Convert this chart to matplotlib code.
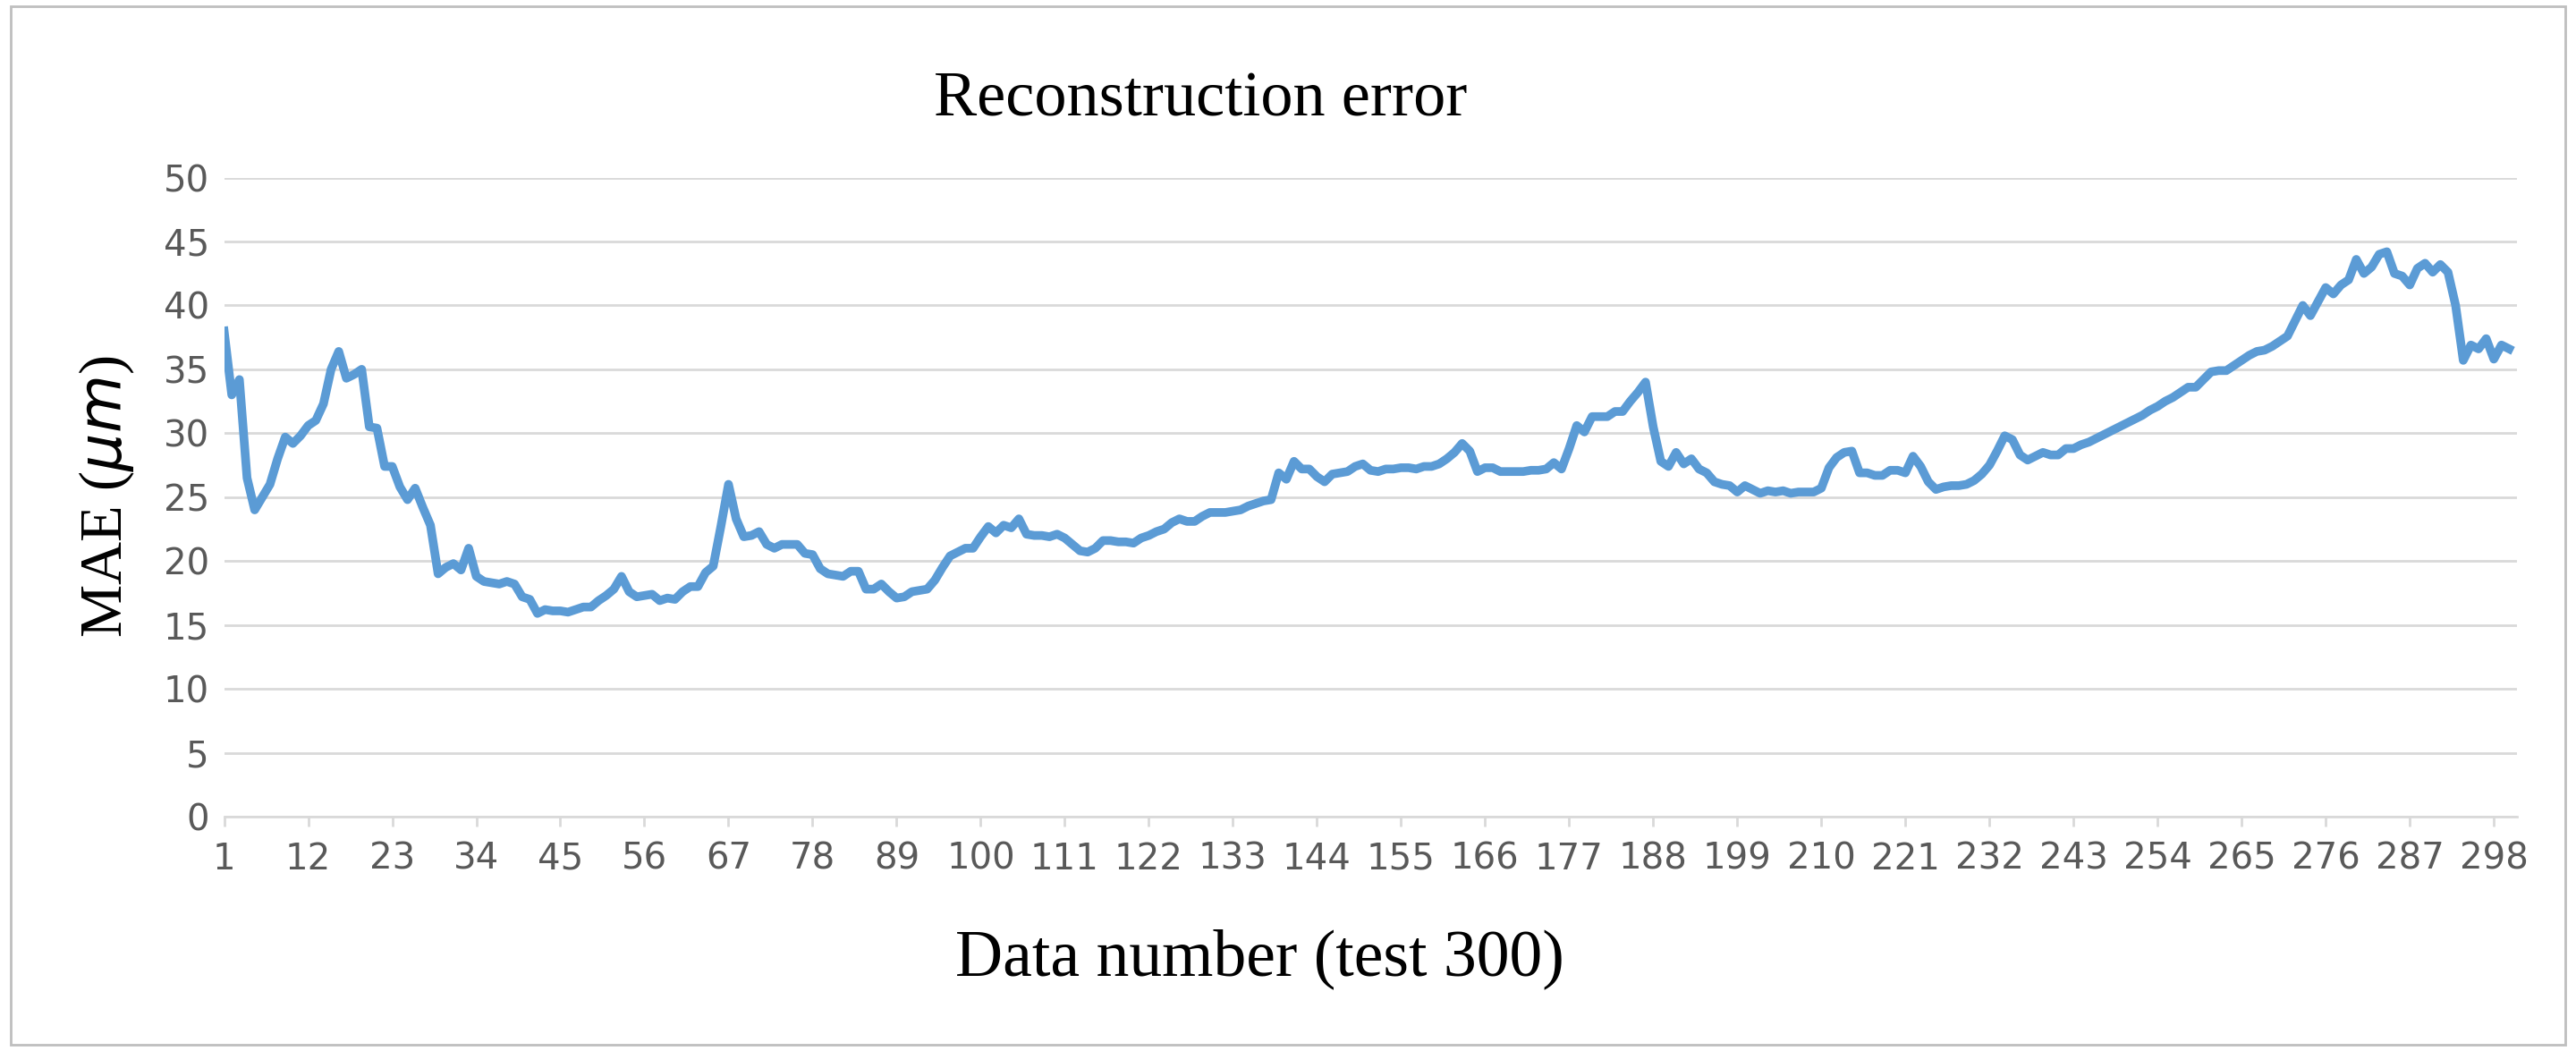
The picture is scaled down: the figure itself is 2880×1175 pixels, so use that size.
import matplotlib
matplotlib.use("Agg")
import matplotlib.pyplot as plt
import numpy as np

# MAE per test sample
mae = [38, 33, 34.2, 26.5, 24, 25, 26, 28, 29.7, 29.2,
       29.8, 30.6, 31, 32.3, 35, 36.4, 34.3, 34.6, 35, 30.5,
       30.4, 27.4, 27.4, 25.8, 24.8, 25.7, 24.2, 22.8, 19, 19.5,
       19.8, 19.3, 21, 18.8, 18.4, 18.3, 18.2, 18.4, 18.2, 17.2,
       17, 15.9, 16.2, 16.1, 16.1, 16, 16.2, 16.4, 16.4, 16.9,
       17.3, 17.8, 18.8, 17.6, 17.2, 17.3, 17.4, 16.9, 17.1, 17.0,
       17.6, 18, 18, 19.1, 19.6, 22.7, 26, 23.3, 21.9, 22,
       22.3, 21.3, 21.0, 21.3, 21.3, 21.3, 20.6, 20.5, 19.4, 19,
       18.9, 18.8, 19.2, 19.2, 17.8, 17.8, 18.2, 17.6, 17.1, 17.2,
       17.6, 17.7, 17.8, 18.5, 19.5, 20.4, 20.7, 21, 21, 21.9,
       22.7, 22.2, 22.8, 22.6, 23.3, 22.1, 22, 22, 21.9, 22.1,
       21.8, 21.3, 20.8, 20.7, 21, 21.6, 21.6, 21.5, 21.5, 21.4,
       21.8, 22, 22.3, 22.5, 23, 23.3, 23.1, 23.1, 23.5, 23.8,
       23.8, 23.8, 23.9, 24, 24.3, 24.5, 24.7, 24.8, 26.9, 26.4,
       27.8, 27.2, 27.2, 26.6, 26.2, 26.8, 26.9, 27, 27.4, 27.6,
       27.1, 27, 27.2, 27.2, 27.3, 27.3, 27.2, 27.4, 27.4, 27.6,
       28, 28.5, 29.2, 28.6, 27, 27.3, 27.3, 27, 27, 27,
       27, 27.1, 27.1, 27.2, 27.7, 27.2, 28.8, 30.6, 30.1, 31.3,
       31.3, 31.3, 31.7, 31.7, 32.5, 33.2, 34, 30.5, 27.8, 27.4,
       28.5, 27.6, 28, 27.2, 26.9, 26.2, 26, 25.9, 25.4, 25.9,
       25.6, 25.3, 25.5, 25.4, 25.5, 25.3, 25.4, 25.4, 25.4, 25.7,
       27.3, 28.1, 28.5, 28.6, 26.9, 26.9, 26.7, 26.7, 27.1, 27.1,
       26.9, 28.2, 27.4, 26.2, 25.6, 25.8, 25.9, 25.9, 26, 26.3,
       26.8, 27.5, 28.6, 29.8, 29.5, 28.3, 27.9, 28.2, 28.5, 28.3,
       28.3, 28.8, 28.8, 29.1, 29.3, 29.6, 29.9, 30.2, 30.5, 30.8,
       31.1, 31.4, 31.8, 32.1, 32.5, 32.8, 33.2, 33.6, 33.6, 34.2,
       34.8, 34.9, 34.9, 35.3, 35.7, 36.1, 36.4, 36.5, 36.8, 37.2,
       37.6, 38.8, 40, 39.2, 40.3, 41.4, 40.9, 41.6, 42, 43.6,
       42.5, 43, 44, 44.2, 42.5, 42.3, 41.6, 42.9, 43.3, 42.6,
       43.2, 42.6, 40, 35.7, 36.9, 36.6, 37.4, 35.8, 36.9, 36.6]
x = np.arange(1, len(mae) + 1)
xticks = list(range(1, 300, 11))

fig = plt.figure(figsize=(28.8, 11.75), dpi=100)
ax = fig.add_axes([0.087, 0.223, 0.89, 0.608])

ax.plot(x, mae, color='#5B9BD5', linewidth=7, solid_joinstyle='round')
ax.set_xlim(1, len(mae) + 1)
ax.set_ylim(0, 50)
ax.set_yticks(np.arange(0, 51, 5))
ax.set_xticks(xticks)
ax.grid(axis='y', color='#D9D9D9', linewidth=2)
ax.set_axisbelow(True)
for s in ['top', 'right', 'left']:
    ax.spines[s].set_visible(False)
ax.spines['bottom'].set_color('#D9D9D9')
ax.spines['bottom'].set_linewidth(2)
ax.tick_params(axis='both', labelsize=29, colors='#595959', length=0, pad=12)
ax.tick_params(axis='x', length=8, color='#D9D9D9', width=2)

fig.text(0.466, 0.905, 'Reconstruction error', fontsize=52, family='Liberation Serif',
         ha='center', va='center')
fig.text(0.489, 0.087, 'Data number (test 300)', fontsize=53, family='Liberation Serif',
         ha='center', va='center')
ax.set_ylabel(r'MAE ($\mu m$)', fontsize=48, family='Liberation Serif', labelpad=22)

# light frame around the figure
fig.patches.append(plt.Rectangle((0.004, 0.006), 0.992, 0.988, transform=fig.transFigure,
                                 fill=False, edgecolor='#BFBFBF', linewidth=2))

fig.savefig('out.png', dpi=100)
